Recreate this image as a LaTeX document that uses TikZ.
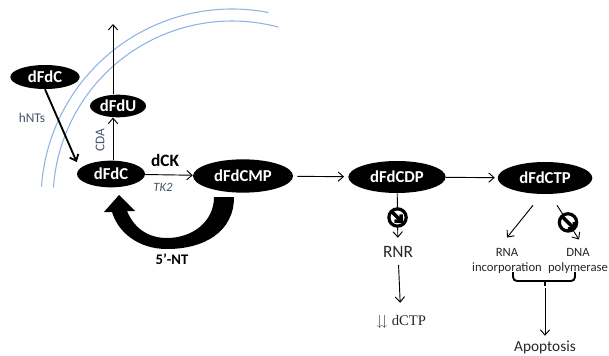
\documentclass[tikz,border=0pt]{standalone}
\usepackage{fontspec}
\usepackage{amssymb}
\setmainfont{Carlito}
\newfontfamily\dctpface{Liberation Serif}
\usetikzlibrary{positioning,arrows.meta,calc,shapes.geometric,decorations.pathreplacing}
\definecolor{gemmemb}{HTML}{8DB3E2}
\definecolor{gemslate}{HTML}{44546A}
\definecolor{gemtext}{HTML}{262626}
\tikzset{
  met/.style     ={ellipse, fill=black, text=white, inner sep=0pt,
                   font=\bfseries\fontsize{12.5}{14}\selectfont},
  flow/.style    ={-{Straight Barb[length=4pt,width=7pt]}, line width=0.7pt},
  uptake/.style  ={flow, line width=1.4pt},
  membrane/.style={draw=gemmemb, line width=0.8pt},
  enz/.style     ={font=\fontsize{10}{12}\selectfont, text=gemslate},
  enzbig/.style  ={font=\bfseries\fontsize{13}{15}\selectfont},
  nosign/.style  ={circle, draw, fill=white, line width=2.4pt, minimum size=13pt,
                   inner sep=0pt,
                   path picture={\draw[line width=2.6pt]
                     (path picture bounding box.north west) --
                     (path picture bounding box.south east);}},
  fate/.style    ={align=center, font=\fontsize{9.5}{11.5}\selectfont, text=gemtext},
  bracket/.style ={line width=1.4pt, rounded corners=3pt},
}
\begin{document}
\begin{tikzpicture}[x=0.75pt,y=0.75pt]
  \useasboundingbox (0,0) rectangle (609,-356);

  % cell membrane
  \draw[membrane] (232,-200) ++(79:191) arc[start angle=79, end angle=176, radius=191];
  \draw[membrane] (232,-200) ++(75:179) arc[start angle=75, end angle=176, radius=179];

  % metabolites
  \node[met, minimum width=52pt, minimum height=18pt] (dfdcOut) at (45,-77) {dFdC};
  \node[met, minimum width=42pt, minimum height=17pt] (dfdu) at (118,-106) {dFdU};
  \node[met, minimum width=51pt, minimum height=20pt] (dfdcIn) at (111,-174) {dFdC};
  \node[met, minimum width=75pt, minimum height=25pt] (dfdcmp) at (243,-176) {dFdCMP};
  \node[met, minimum width=73pt, minimum height=24pt] (dfdcdp) at (397,-177) {dFdCDP};
  \node[met, minimum width=71pt, minimum height=24pt] (dfdctp) at (545,-178) {dFdCTP};

  % uptake and deamination
  \coordinate (efflux) at (113,-24);
  \draw[flow] (dfdu.north -| efflux) -- (efflux);
  \draw[flow] (dfdcIn.north -| efflux) -- (dfdu.south -| efflux);
  \draw[uptake] (dfdcOut.south) -- ([yshift=9pt]dfdcIn.west);
  \node[enz, rotate=90] (cda) at (100,-140) {CDA};
  \node[enz] (hnts) at (32,-118) {hNTs};

  % phosphorylation chain
  \draw[flow] (dfdcIn) -- (dfdcmp);
  \draw[flow, shorten <=3pt, shorten >=3pt] (dfdcmp) -- (dfdcdp);
  \draw[flow, shorten >=2pt] (dfdcdp) -- (dfdctp);
  \node[enzbig] (dck) at (165,-160) {dCK};
  \node[enz, font=\itshape\fontsize{9.5}{11}\selectfont] (tk2) at (163,-187) {TK2};

  % 5'-NT back reaction
  \fill (234,-197) .. controls (234,-232) and (204,-249) .. (167,-249)
        .. controls (138,-249) and (118,-232) .. (112,-212)
        -- (104,-212) -- (119,-195) -- (135,-211) -- (127,-211)
        .. controls (134,-228) and (148,-238) .. (167,-238)
        .. controls (192,-238) and (214,-222) .. (214,-197) -- cycle;
  \node[font=\bfseries\fontsize{11}{13}\selectfont] (nt) at (172,-259) {5’-NT};

  % RNR inhibition
  \node[font=\fontsize{13}{15}\selectfont, text=gemtext] (rnr) at (398,-252) {RNR};
  \node[font=\dctpface\fontsize{11}{13}\selectfont, text=gemtext] (dctp) at (401,-322)
    {$\downdownarrows$ dCTP};
  \draw[flow, shorten >=3pt] (dfdcdp) -- node[nosign] (nsRnr) {} (rnr);
  \draw[flow, shorten <=2pt, shorten >=6pt] (rnr) -- (dctp);

  % dFdCTP effects
  \node[fate] (rna) at (507,-261) {RNA\\incorporation};
  \node[fate] (dna) at (578,-261) {DNA\\polymerase};
  \draw[flow] ($(dfdctp.south)+(-12,-11)$) -- ($(rna.north)+(0,6)$);
  \draw[flow] ($(dfdctp.south)+(12,-11)$) -- node[nosign] (nsPol) {} ($(dna.north)+(1,4)$);
  \coordinate (braceL) at (513,-272);
  \coordinate (braceR) at (575,-272);
  \coordinate (braceM) at (545,-281);
  \draw[bracket] (braceL) |- (braceM) -| (braceR);
  \draw[line width=1.4pt] (braceM) -- ++(0,-5);
  \node[font=\fontsize{11.5}{13}\selectfont, text=gemtext] (apop) at (545,-347) {Apoptosis};
  \draw[flow] ($(braceM)+(0,-7)$) -- (apop);
\end{tikzpicture}
\end{document}
